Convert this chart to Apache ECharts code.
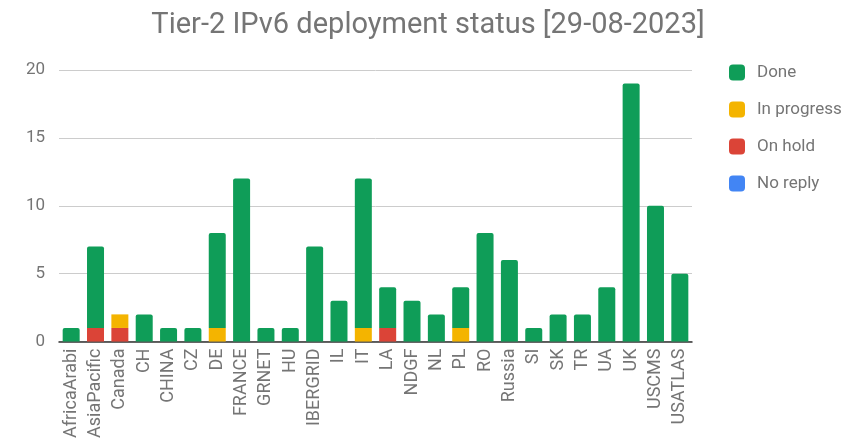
<!DOCTYPE html>
<html><head><meta charset="utf-8">
<script src="https://cdn.jsdelivr.net/npm/echarts@6/dist/echarts.min.js"></script>
<style>html,body{margin:0;padding:0;background:#fff}#c{width:856px;height:441px}</style>
</head><body><div id="c"></div>
<script>
const categories = ['AfricaArabi','AsiaPacific','Canada','CH','CHINA','CZ','DE','FRANCE','GRNET','HU','IBERGRID','IL','IT','LA','NDGF','NL','PL','RO','Russia','SI','SK','TR','UA','UK','USCMS','USATLAS'];
const done       = [1,6,0,2,1,1,7,12,1,1,7,3,11,3,3,2,3,8,6,1,2,2,4,19,10,5];
const inProgress = [0,0,1,0,0,0,1,0,0,0,0,0,1,0,0,0,1,0,0,0,0,0,0,0,0,0];
const onHold     = [0,1,1,0,0,0,0,0,0,0,0,0,0,1,0,0,0,0,0,0,0,0,0,0,0,0];
const noReply    = [0,0,0,0,0,0,0,0,0,0,0,0,0,0,0,0,0,0,0,0,0,0,0,0,0,0];
const yTicks = [0,5,10,15,20];

const font = 'Roboto, sans-serif';
const toNull = a => a.map(v => v === 0 ? null : v);
const chart = echarts.init(document.getElementById('c'));
const mk = (name, data, color, top) => ({
  name, type: 'bar', stack: 't', data: toNull(data), barWidth: 17,
  itemStyle: { color, borderRadius: top ? [2,2,0,0] : 0 }
});
chart.setOption({
  animation: false,
  title: { text: 'Tier-2 IPv6 deployment status [29-08-2023]', left: 'center', top: 6,
    textStyle: { fontFamily: font, fontSize: 29, fontWeight: 'normal', color: '#757575' } },
  legend: { orient: 'vertical', left: 724, top: 59, itemWidth: 16, itemHeight: 16, itemGap: 20,
    icon: 'roundRect', data: ['Done','In progress','On hold','No reply'],
    textStyle: { fontFamily: font, fontSize: 17, color: '#757575', padding: [0,0,0,7] } },
  grid: { left: 59, right: 164, top: 70, bottom: 99 },
  xAxis: { type: 'category', data: categories,
    axisLine: { lineStyle: { color: '#333', width: 1.5 } }, axisTick: { show: false },
    axisLabel: { rotate: 90, interval: 0, fontFamily: font, fontSize: 18, color: '#757575', margin: 7 } },
  yAxis: { type: 'value', min: 0, max: 20, interval: 5,
    axisLabel: { fontFamily: font, fontSize: 17, color: '#757575', margin: 14 },
    splitLine: { lineStyle: { color: '#cccccc' } }, axisLine: { show: false } },
  series: [
    mk('No reply', noReply, '#4285f4', false),
    mk('On hold', onHold, '#db4437', false),
    mk('In progress', inProgress, '#f4b400', false),
    mk('Done', done, '#0f9d58', true)
  ]
});
</script></body></html>
